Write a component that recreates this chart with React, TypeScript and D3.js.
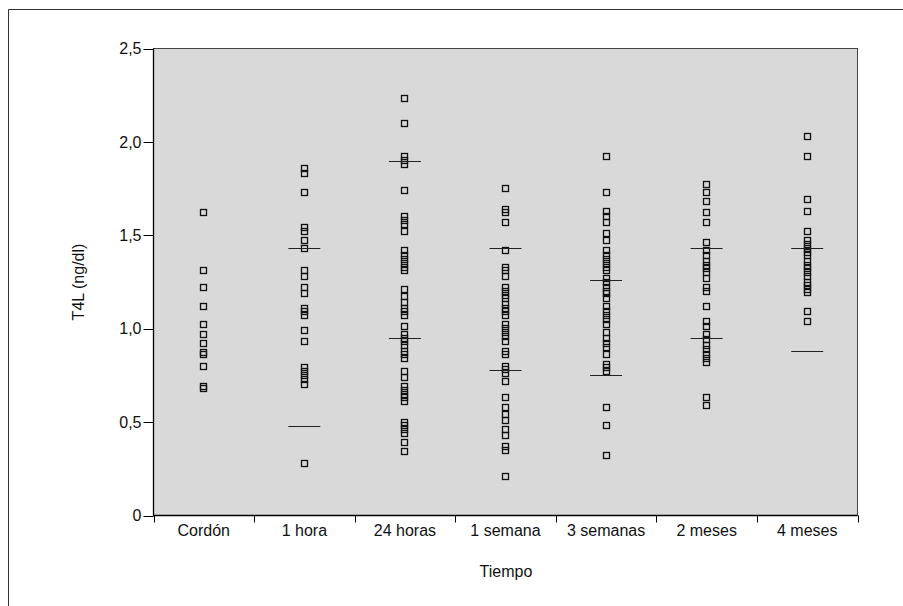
import React from "react";
import * as d3 from "d3";

const categories = ["Cordón", "1 hora", "24 horas", "1 semana", "3 semanas", "2 meses", "4 meses"];

const cordon = [1.62, 1.31, 1.22, 1.12, 1.02, 0.97, 0.92, 0.87, 0.86, 0.80, 0.69, 0.68];
const hora1 = [1.86, 1.83, 1.73, 1.54, 1.52, 1.47, 1.43, 1.31, 1.28, 1.22, 1.19, 1.11, 1.09, 1.07, 0.99, 0.93, 0.79, 0.77, 0.75, 0.73, 0.70, 0.28];
const horas24 = [2.23, 2.10, 1.92, 1.90, 1.88, 1.74, 1.60, 1.58, 1.56, 1.52, 1.42, 1.39, 1.37, 1.35, 1.33, 1.31, 1.21, 1.17, 1.14, 1.11, 1.09, 1.07, 1.01, 0.97, 0.95, 0.93, 0.91, 0.88, 0.86, 0.84, 0.77, 0.74, 0.69, 0.67, 0.65, 0.63, 0.61, 0.50, 0.48, 0.46, 0.44, 0.39, 0.34];
const semana1 = [1.75, 1.64, 1.62, 1.57, 1.42, 1.33, 1.31, 1.28, 1.22, 1.20, 1.18, 1.16, 1.13, 1.11, 1.09, 1.07, 1.02, 1.00, 0.98, 0.96, 0.93, 0.88, 0.86, 0.80, 0.78, 0.76, 0.72, 0.63, 0.58, 0.54, 0.51, 0.46, 0.43, 0.37, 0.35, 0.21];
const semanas3 = [1.92, 1.73, 1.63, 1.60, 1.57, 1.51, 1.47, 1.42, 1.39, 1.37, 1.35, 1.33, 1.31, 1.27, 1.25, 1.22, 1.20, 1.19, 1.16, 1.12, 1.09, 1.07, 1.05, 1.02, 0.98, 0.95, 0.92, 0.90, 0.86, 0.81, 0.79, 0.77, 0.58, 0.48, 0.32];
const meses2 = [1.77, 1.73, 1.68, 1.62, 1.57, 1.46, 1.42, 1.39, 1.36, 1.34, 1.32, 1.30, 1.27, 1.22, 1.20, 1.12, 1.04, 1.01, 0.97, 0.94, 0.91, 0.89, 0.86, 0.84, 0.82, 0.63, 0.59];
const meses4 = [2.03, 1.92, 1.69, 1.63, 1.52, 1.47, 1.45, 1.43, 1.41, 1.39, 1.36, 1.34, 1.32, 1.30, 1.28, 1.25, 1.23, 1.21, 1.195, 1.09, 1.04];

const seriesValues = [cordon, hora1, horas24, semana1, semanas3, meses2, meses4];

const lineHigh: (number | null)[] = [null, 1.43, 1.90, 1.43, 1.26, 1.43, 1.43];
const lineLow: (number | null)[] = [null, 0.48, 0.95, 0.78, 0.75, 0.95, 0.88];

const yTicks = [0, 0.5, 1.0, 1.5, 2.0, 2.5];

export default function App() {
  const W = 903, H = 606;
  const left = 153.5, right = 857.5, top = 48.5, bottom = 515.5;
  const x = d3.scaleBand<string>().domain(categories).range([left, right]);
  const y = d3.scaleLinear().domain([0, 2.5]).range([bottom, top]);
  const fmt = (v: number) => (v === 0 ? "0" : d3.format(".1f")(v).replace(".", ","));
  const font = "'Liberation Sans', Arial, Helvetica, sans-serif";
  const fs = 16;
  const sq = 7;
  const half = 16;
  return (
    <svg width={W} height={H} style={{ position: "absolute", left: 0, top: 0, background: "#fff" }}>
      <line x1={8.5} y1={9.5} x2={W} y2={9.5} stroke="#333" strokeWidth={1} />
      <line x1={8.5} y1={9.5} x2={8.5} y2={H} stroke="#333" strokeWidth={1} />
      <rect x={left} y={top} width={right - left} height={bottom - top} fill="#d9d9d9" stroke="#444" strokeWidth={1} />
      {seriesValues.map((vals, i) => {
        const cx = (x(categories[i]) as number) + x.bandwidth() / 2;
        return (
          <g key={categories[i]}>
            {vals.map((v, j) => (
              <rect key={j} x={Math.round(cx - sq / 2) + 0.5} y={Math.round(y(v) - sq / 2) + 0.5} width={sq - 1} height={sq - 1} fill="none" stroke="#111" strokeWidth={1.3} />
            ))}
            {lineHigh[i] != null && (
              <line x1={cx - half} x2={cx + half} y1={Math.round(y(lineHigh[i] as number)) + 0.5} y2={Math.round(y(lineHigh[i] as number)) + 0.5} stroke="#222" strokeWidth={1} />
            )}
            {lineLow[i] != null && (
              <line x1={cx - half} x2={cx + half} y1={Math.round(y(lineLow[i] as number)) + 0.5} y2={Math.round(y(lineLow[i] as number)) + 0.5} stroke="#222" strokeWidth={1} />
            )}
          </g>
        );
      })}
      {/* y axis */}
      <line x1={left} x2={left} y1={top} y2={bottom} stroke="#000" strokeWidth={1.3} />
      {yTicks.map((t) => (
        <g key={t}>
          <line x1={left - 10} x2={left} y1={Math.round(y(t)) + 0.5} y2={Math.round(y(t)) + 0.5} stroke="#000" strokeWidth={1} />
          <text x={left - 12} y={y(t)} dy="0.35em" textAnchor="end" fontFamily={font} fontSize={fs} fill="#111">{fmt(t)}</text>
        </g>
      ))}
      {/* x axis */}
      <line x1={left} x2={right} y1={bottom} y2={bottom} stroke="#000" strokeWidth={1.3} />
      {[...categories.map((c) => x(c) as number), right].map((bx, i) => (
        <line key={i} x1={Math.round(bx) + 0.5} x2={Math.round(bx) + 0.5} y1={bottom} y2={bottom + 7} stroke="#000" strokeWidth={1} />
      ))}
      {categories.map((c) => (
        <text key={c} x={(x(c) as number) + x.bandwidth() / 2} y={536} textAnchor="middle" fontFamily={font} fontSize={fs} fill="#111">{c}</text>
      ))}
      <text x={506} y={577} textAnchor="middle" fontFamily={font} fontSize={fs} fill="#111">Tiempo</text>
      <text transform={`translate(84,${(top + bottom) / 2}) rotate(-90)`} textAnchor="middle" fontFamily={font} fontSize={fs} fill="#111">T4L (ng/dl)</text>
    </svg>
  );
}
